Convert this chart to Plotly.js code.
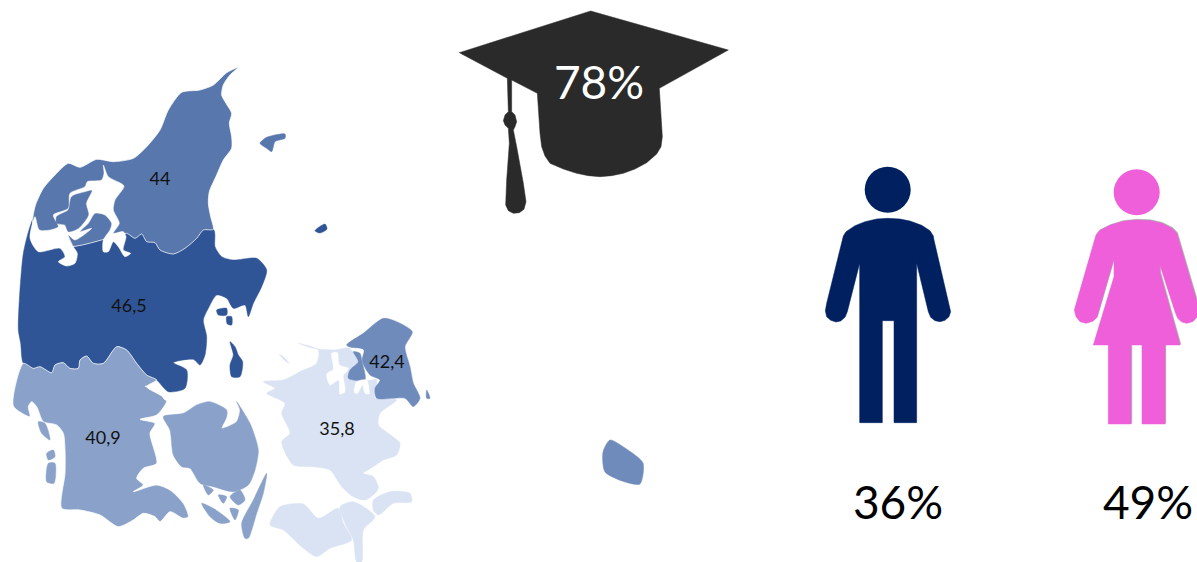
<!DOCTYPE html>
<html><head><meta charset="utf-8">
<script src="https://cdn.plot.ly/plotly-3.0.1.min.js"></script>
<style>html,body{margin:0;padding:0;background:#fff}#c{width:1197px;height:562px}</style>
</head><body><div id="c"></div>
<script>
// Region values and labels
const regionNames=["Nordjylland","Midtjylland","Syddanmark","Hovedstaden","Sjælland"];
const regionValues=["44","46,5","40,9","42,4","35,8"];
const labelX=[160,129,103,387,337];
const labelY=[180,307,439,363,430];
const regionColors=["#5877AC","#2F5597","#8AA2C9","#6E8BBB","#DAE3F3"];
const statLabels=["78%","36%","49%"];
const statX=[599,898,1148];
const statY=[87,507,507];
// Outlines, as [x,y] lists; each has an origin and 1/3 scale
const north=[[715,22],[690,45],[670,75],[665,105],[678,130],[695,160],[688,190],[695,230],[695,265],[670,300],[650,345],[628,395],[625,430],[632,470],[640,508],[610,510],[590,535],[555,565],[520,582],[480,570],[465,548],[440,545],[425,522],[405,535],[380,520],[340,530],[200,560],[100,500],[105,440],[130,385],[165,345],[205,310],[240,322],[290,298],[340,305],[400,295],[440,260],[480,210],[505,150],[545,97],[600,90],[640,75],[680,38]];
const mid=[[640,508],[645,560],[665,590],[700,600],[770,595],[800,630],[785,680],[760,730],[745,770],[735,735],[700,745],[680,715],[650,705],[625,745],[610,780],[620,830],[615,885],[600,915],[580,898],[520,908],[560,930],[555,985],[505,995],[470,960],[440,945],[410,910],[380,870],[350,860],[310,910],[280,910],[260,888],[240,900],[235,925],[210,925],[190,908],[165,915],[155,938],[120,920],[100,925],[70,910],[62,850],[55,810],[58,720],[70,580],[90,500],[105,470],[340,480]];
const south=[[70,190],[40,318],[90,350],[85,320],[95,305],[110,320],[130,365],[170,375],[190,400],[195,450],[195,520],[185,625],[240,630],[300,645],[355,680],[400,660],[430,640],[465,650],[480,665],[510,635],[550,655],[565,650],[550,610],[510,570],[470,555],[400,575],[430,555],[410,535],[430,505],[470,490],[450,400],[465,370],[420,358],[470,345],[500,300],[440,260],[470,240],[440,225],[410,190],[380,150],[350,140],[310,190],[280,190],[260,168],[240,180],[235,205],[210,205],[190,188],[165,195],[155,218],[120,200],[100,205]];
const funen=[[490,350],[550,340],[590,315],[630,305],[680,330],[680,350],[665,385],[710,365],[720,330],[710,305],[750,370],[775,450],[765,510],[745,555],[700,575],[640,560],[600,550],[570,505],[545,500],[520,465],[510,390]];
const langeland=[[800,520],[790,580],[770,640],[745,715],[735,715],[725,670],[760,600]];
const taasinge=[[690,590],[720,570],[735,600],[715,615]];
const aeroe=[[605,610],[640,625],[690,665],[660,670],[630,650]];
const isletA=[[610,555],[640,570],[625,585]];
const isletB=[[655,585],[680,590],[670,610]];
const isletC=[[690,625],[715,630],[705,660]];
const romoe=[[115,365],[135,370],[150,420],[125,400]];
const fanoe=[[140,460],[160,450],[165,470],[145,480]];
const manoe=[[145,490],[165,490],[162,550],[140,545]];
const koldingStrip=[[435,258],[470,262],[495,278],[510,298],[495,300],[480,280],[455,268]];
const zealand=[[40,245],[100,240],[150,215],[200,190],[205,150],[145,130],[190,145],[250,150],[300,145],[330,190],[350,240],[380,240],[375,295],[440,300],[390,340],[385,375],[415,400],[450,430],[440,465],[400,480],[370,500],[340,520],[370,530],[385,560],[380,575],[345,600],[310,590],[275,560],[240,510],[190,500],[130,495],[95,425],[120,400],[95,340],[105,310],[50,280],[75,265]];
const sejeroe=[[88,163],[100,170],[118,190],[105,182]];
const moen=[[370,600],[420,575],[480,580],[485,605],[430,610],[385,645],[370,630]];
const falster=[[270,620],[310,605],[375,650],[340,690],[335,785],[320,785],[310,720],[285,670]];
const lolland=[[60,675],[90,620],[160,612],[205,655],[265,625],[280,670],[305,720],[240,745],[200,770],[160,745],[100,690]];
const capital=[[290,135],[340,100],[400,55],[440,65],[487,95],[465,140],[480,200],[490,250],[510,295],[490,320],[465,295],[380,295],[375,265],[390,240],[360,225],[335,180],[340,150],[310,145]];
const capitalWest=[[310,155],[330,160],[335,180],[345,240],[295,235],[300,210],[325,185]];
const amager=[[530,270],[540,295],[530,295]];
const roskilde=[[245,160],[262,158],[268,195],[295,205],[290,215],[280,225],[285,275],[270,282],[266,240],[240,255],[230,222],[250,208]];
const fjordStrip=[[300,145],[340,150],[335,180],[350,240],[358,282],[350,280],[340,235],[330,190],[310,155]];
const isefjord=[[320,245],[350,240],[356,280],[345,280],[338,255],[322,280],[313,278]];
const limfjord=[[310,315],[325,350],[372,378],[345,420],[340,450],[358,490],[340,520],[370,515],[378,530],[370,570],[392,580],[375,590],[355,560],[340,545],[325,575],[310,575],[310,540],[330,510],[335,490],[315,465],[285,460],[265,490],[240,515],[275,505],[225,540],[205,525],[220,560],[232,580],[225,610],[200,618],[175,605],[195,590],[180,565],[115,575],[90,535],[105,470],[118,510],[150,510],[175,500],[160,465],[205,445],[210,400],[255,380],[262,365],[305,360],[312,340]];
const mors=[[215,410],[260,395],[275,392],[258,430],[265,465],[235,505],[205,515],[195,495],[170,490],[170,470],[205,450]];
const laesoe=[[780,250],[800,232],[855,222],[855,235],[825,245],[815,275],[800,265]];
const samsoe=[[690,125],[705,140],[715,165],[728,185],[720,230],[695,230],[690,195],[700,165]];
const endelave=[[650,30],[680,25],[680,45],[655,45]];
const tunoe=[[680,50],[695,50],[695,75],[682,72]];
const anholt=[[945,692],[975,672],[981,687],[960,699]];
const bornholm=[[1809,1356],[1830,1320],[1875,1344],[1929,1389],[1920,1452],[1875,1446],[1815,1416]];
const capOutline=[[28,158],[422,33],[835,150],[628,265],[637,410],[633,440],[620,462],[590,488],[555,507],[520,520],[485,527],[450,530],[415,527],[380,520],[340,507],[300,490],[285,468],[275,440],[270,400],[262,280],[185,240],[185,335],[195,345],[200,365],[195,380],[190,390],[200,440],[210,490],[220,550],[228,605],[222,628],[208,638],[190,640],[175,632],[167,615],[170,540],[175,470],[178,430],[175,385],[165,375],[160,362],[165,345],[175,335],[172,235]];
const manBody=[[233,175],[270,177],[300,183],[335,196],[360,212],[370,228],[372,240],[420,440],[422,455],[417,470],[405,481],[390,485],[375,482],[362,472],[355,455],[320,310],[320,788],[252,788],[252,482],[217,482],[217,788],[149,788],[149,310],[112,455],[105,472],[92,483],[78,486],[62,481],[50,470],[46,452],[50,430],[97,240],[100,228],[108,215],[135,197],[165,185],[200,177]];
const womanBody=[[980,180],[1020,182],[1055,190],[1085,205],[1100,220],[1162,430],[1165,455],[1160,472],[1148,485],[1130,490],[1115,486],[1103,475],[1095,455],[1048,310],[1050,340],[1110,555],[1065,555],[1065,792],[996,792],[996,555],[963,555],[963,792],[895,792],[895,555],[850,555],[912,350],[912,295],[865,460],[860,473],[848,484],[828,490],[810,485],[798,470],[793,450],[800,425],[858,225],[868,212],[900,196],[940,184]];
const headX=[887.7,1136.7];
const headY=[189.7,192.3];

const NAVY="#002060",PINK="#EF5FDA",CAP="#2A2A2A";
const edge={color:"rgba(255,255,255,0.75)",width:1};
function poly(pts,ox,oy,fill,line,shape){
  return {type:"scatter",mode:"lines",x:pts.map(p=>ox+p[0]/3),y:pts.map(p=>oy+p[1]/3),
    fill:"toself",fillcolor:fill,line:Object.assign({shape:shape||"linear",smoothing:0.7},line||{color:fill,width:0.5}),hoverinfo:"skip",showlegend:false};
}
function close(p){return p.concat([p[0]]);}
const O1=[0,60],O2=[0,300],O3=[250,300],O4=[450,0],O5=[810,160];
const [cN,cM,cS,cC,cZ]=regionColors;
const traces=[];
function geo(list,o,c,l){list.forEach(p=>traces.push(poly(close(p),o[0],o[1],c,l,"spline")));}
function flat(list,o,c){list.forEach(p=>traces.push(poly(close(p),o[0],o[1],c)));}
geo([mid],O1,cM);
geo([north],O1,cN,edge);
geo([south],O2,cS,edge);
geo([koldingStrip],O2,"#FFFFFF");
geo([funen,langeland,taasinge,aeroe,isletA,isletB,isletC,romoe,fanoe,manoe],O2,cS);
geo([zealand,sejeroe,moen,falster,lolland],O3,cZ);
geo([capital],O3,cC);
geo([fjordStrip],O3,"#FFFFFF");
geo([capitalWest,amager],O3,cC);
geo([roskilde,isefjord],O3,"#FFFFFF");
geo([limfjord],O1,"#FFFFFF");
geo([mors,laesoe],O1,cN);
geo([samsoe,endelave,tunoe],O2,cM);
geo([anholt],[0,0],cM);
geo([bornholm],[0,0],cC);
flat([capOutline],O4,CAP);
flat([manBody],O5,NAVY);
traces.push(poly(close(womanBody),O5[0]+0.8,O5[1]-0.8,"#A9A9A9"));
flat([womanBody],O5,PINK);
traces.push({type:"scatter",mode:"markers",x:headX,y:headY,marker:{size:46,color:[NAVY,PINK],line:{width:0}},hoverinfo:"skip",showlegend:false});
traces.push({type:"scatter",mode:"text",x:labelX,y:labelY,text:regionValues,textposition:"middle center",
  textfont:{family:"Lato, sans-serif",size:18,color:"#111"},hoverinfo:"skip",showlegend:false});
traces.push({type:"scatter",mode:"text",x:statX,y:statY,text:statLabels,textposition:"middle center",
  textfont:{family:"Lato, sans-serif",size:46,color:["#FFFFFF","#000000","#000000"]},hoverinfo:"skip",showlegend:false});
Plotly.newPlot("c",traces,{
  width:1197,height:562,margin:{l:0,r:0,t:0,b:0},paper_bgcolor:"#fff",plot_bgcolor:"#fff",showlegend:false,
  xaxis:{range:[0,1197],visible:false,fixedrange:true},
  yaxis:{range:[562,0],visible:false,fixedrange:true}
},{displayModeBar:false,staticPlot:true});
</script></body></html>
